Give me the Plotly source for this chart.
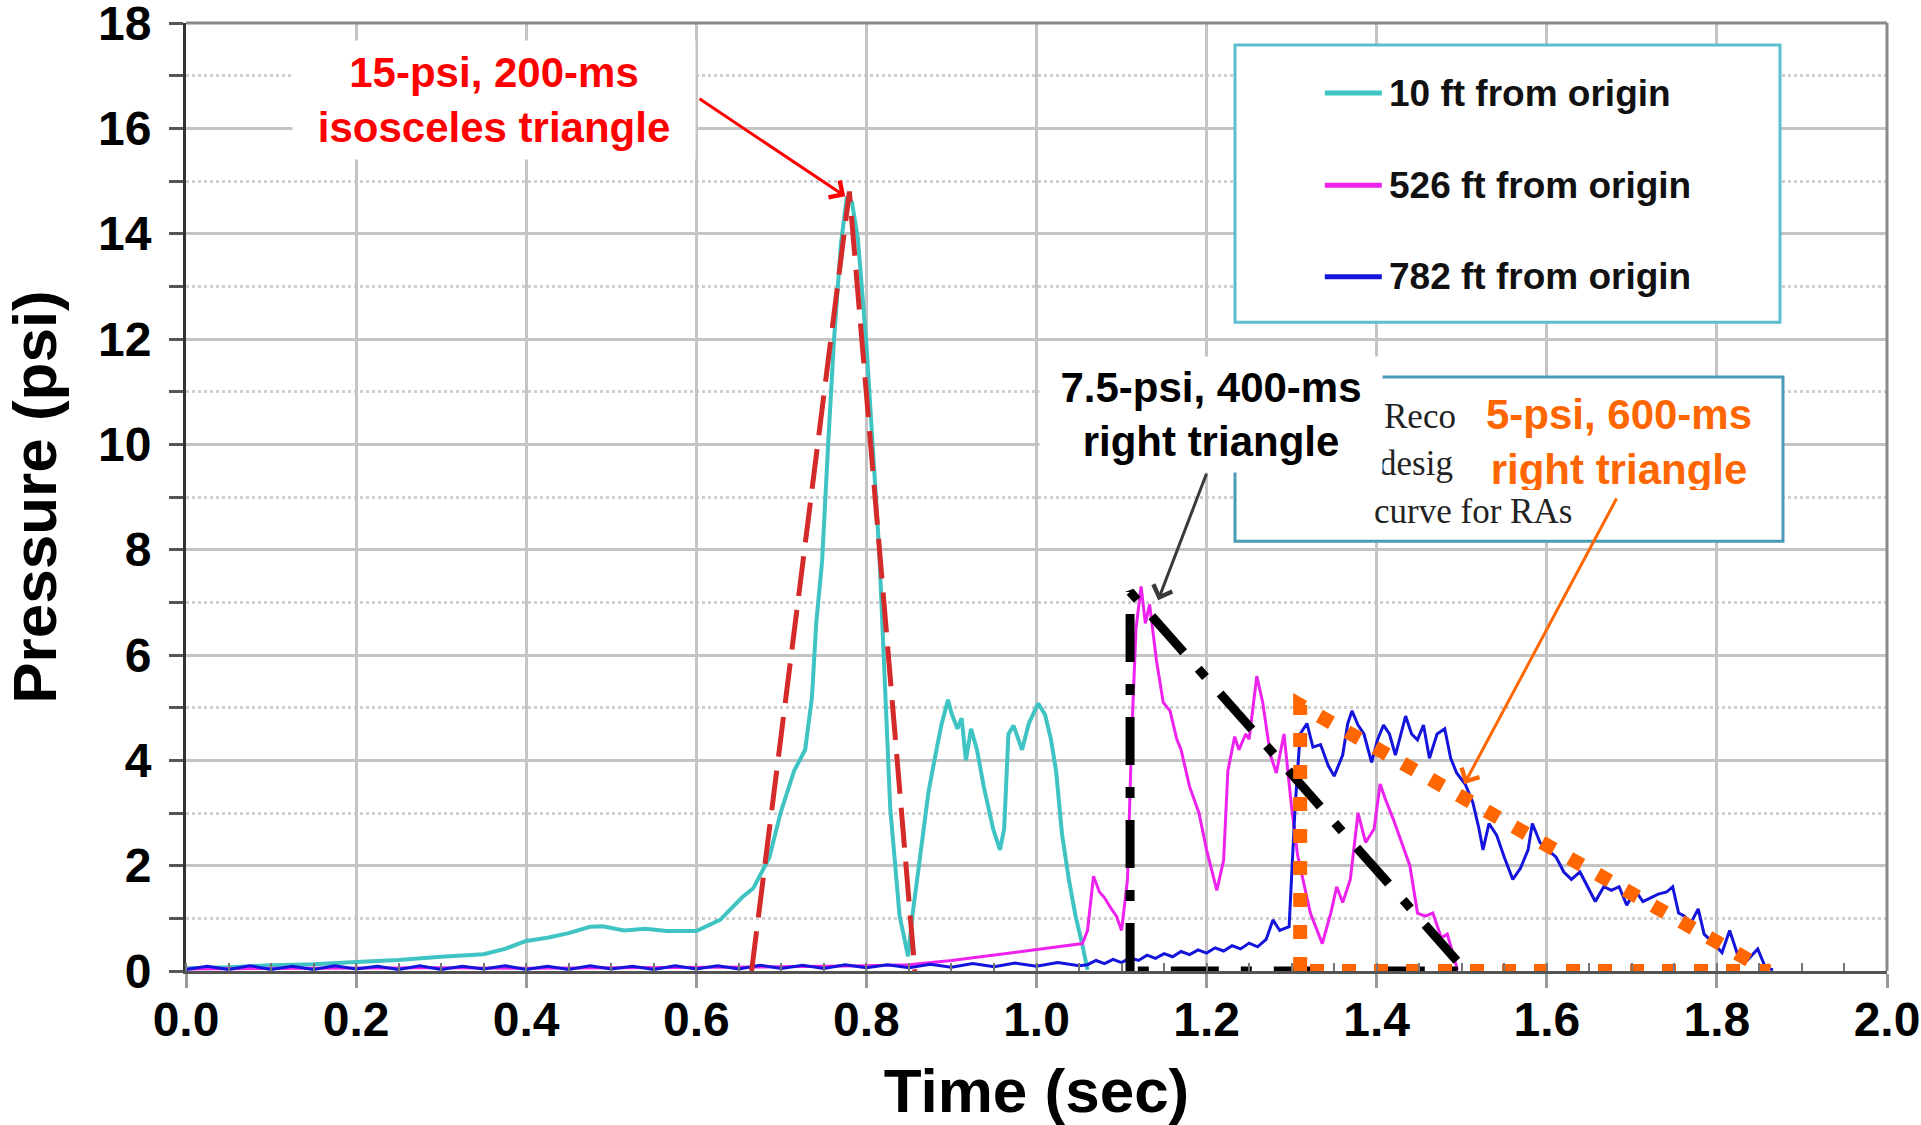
import plotly.graph_objects as go

# ---------------- data ----------------
cyan_t = [0.00, 0.05, 0.10, 0.15, 0.20, 0.25, 0.30, 0.35, 0.375, 0.40, 0.425, 0.45, 0.475, 0.49,
          0.515, 0.54, 0.565, 0.60, 0.628, 0.654, 0.667, 0.686, 0.699, 0.715, 0.728, 0.736, 0.741,
          0.748, 0.755, 0.762, 0.770, 0.777, 0.783, 0.790, 0.800, 0.809, 0.815, 0.828, 0.839, 0.849,
          0.854, 0.865, 0.873, 0.880, 0.888, 0.896, 0.900, 0.907, 0.912, 0.917, 0.923, 0.930, 0.938,
          0.949, 0.957, 0.962, 0.967, 0.973, 0.978, 0.983, 0.991, 1.002, 1.010, 1.017, 1.023, 1.030,
          1.038, 1.046, 1.054, 1.060]
cyan_p = [0.05, 0.07, 0.11, 0.13, 0.17, 0.21, 0.27, 0.32, 0.42, 0.57, 0.63, 0.72, 0.84, 0.85,
          0.77, 0.80, 0.76, 0.76, 0.97, 1.40, 1.57, 2.16, 3.0, 3.8, 4.2, 5.2, 6.6,
          7.8, 10.0, 12.0, 13.8, 14.7, 14.6, 13.9, 11.9, 9.4, 8.0, 3.1, 1.05, 0.28,
          1.04, 2.4, 3.4, 4.0, 4.66, 5.15, 4.9, 4.6, 4.8, 4.0, 4.6, 4.2, 3.5,
          2.7, 2.3, 2.7, 4.5, 4.66, 4.4, 4.2, 4.7, 5.08, 4.87, 4.4, 3.8, 2.6,
          1.74, 1.04, 0.49, 0.02]

magenta_t = [0.00, 0.10, 0.20, 0.30, 0.40, 0.50, 0.60, 0.70, 0.80, 0.85, 0.90, 0.95, 1.00, 1.054,
             1.060, 1.067, 1.074, 1.080, 1.088, 1.094, 1.100, 1.107, 1.112, 1.117, 1.123, 1.128,
             1.133, 1.141, 1.149, 1.157, 1.165, 1.170, 1.180, 1.191, 1.200, 1.212, 1.220, 1.225,
             1.233, 1.238, 1.246, 1.250, 1.259, 1.266, 1.275, 1.282, 1.291, 1.300, 1.307, 1.317,
             1.322, 1.336, 1.346, 1.353, 1.360, 1.369, 1.378, 1.387, 1.397, 1.404, 1.410, 1.420,
             1.429, 1.439, 1.448, 1.457, 1.466, 1.476, 1.483, 1.492, 1.495]
magenta_p = [0.04, 0.05, 0.05, 0.06, 0.05, 0.06, 0.06, 0.08, 0.10, 0.12, 0.20, 0.30, 0.40, 0.52,
             0.77, 1.80, 1.50, 1.39, 1.18, 1.04, 0.77, 1.74, 4.5, 6.5, 7.3, 6.6,
             6.96, 5.9, 5.1, 4.94, 4.4, 4.2, 3.5, 3.0, 2.3, 1.53, 2.1, 3.8,
             4.45, 4.2, 4.5, 4.4, 5.6, 5.1, 4.1, 3.76, 4.5, 3.1, 2.2, 1.5,
             1.1, 0.52, 1.1, 1.6, 1.3, 1.74, 3.0, 2.44, 2.7, 3.55, 3.27, 2.86,
             2.44, 2.0, 1.1, 1.04, 1.1, 0.63, 0.7, 0.2, 0.02]

blue_t = [0.000, 0.025, 0.050, 0.075, 0.100, 0.125, 0.150, 0.175, 0.200, 0.225, 0.250, 0.275,
          0.300, 0.325, 0.350, 0.375, 0.400, 0.425, 0.450, 0.475, 0.500, 0.525, 0.550, 0.575,
          0.600, 0.625, 0.650, 0.675, 0.700, 0.725, 0.750, 0.775, 0.800, 0.825, 0.850, 0.875,
          0.900, 0.925, 0.950, 0.975, 1.000, 1.025, 1.050,
          1.06, 1.07, 1.08, 1.09, 1.10, 1.11, 1.12, 1.13, 1.14, 1.15, 1.16, 1.17, 1.18, 1.19,
          1.20, 1.21, 1.22, 1.23, 1.24, 1.25, 1.26, 1.27, 1.278, 1.286, 1.297,
          1.304, 1.310, 1.318, 1.325, 1.334, 1.343, 1.350, 1.360, 1.366, 1.371, 1.378, 1.385,
          1.394, 1.401, 1.408, 1.415, 1.422, 1.427, 1.434, 1.441, 1.448, 1.455, 1.462, 1.471,
          1.480, 1.487, 1.494, 1.504, 1.513, 1.520, 1.525, 1.532, 1.541, 1.550, 1.560, 1.569,
          1.578, 1.583, 1.592, 1.601, 1.611, 1.620, 1.629, 1.639, 1.648, 1.657, 1.667, 1.676,
          1.685, 1.694, 1.704, 1.713, 1.722, 1.731, 1.741, 1.748, 1.755, 1.762, 1.769, 1.778,
          1.785, 1.794, 1.806, 1.815, 1.825, 1.836, 1.848, 1.857, 1.866]
blue_p = [0.03, 0.09, 0.03, 0.10, 0.03, 0.09, 0.03, 0.10, 0.04, 0.09, 0.03, 0.10,
          0.03, 0.09, 0.04, 0.10, 0.03, 0.09, 0.03, 0.10, 0.04, 0.09, 0.03, 0.10,
          0.04, 0.10, 0.04, 0.11, 0.05, 0.11, 0.05, 0.12, 0.06, 0.12, 0.06, 0.13,
          0.07, 0.14, 0.08, 0.15, 0.09, 0.16, 0.10,
          0.12, 0.20, 0.14, 0.22, 0.16, 0.25, 0.20, 0.30, 0.24, 0.33, 0.27, 0.37, 0.31, 0.40,
          0.34, 0.44, 0.38, 0.48, 0.42, 0.53, 0.46, 0.60, 0.97, 0.77, 0.84,
          3.1, 4.5, 4.7, 4.25, 4.3, 3.9, 3.7, 4.1, 4.7, 4.94, 4.67, 4.5,
          3.96, 4.39, 4.67, 4.5, 4.1, 4.4, 4.84, 4.5, 4.39, 4.67, 4.04, 4.5,
          4.6, 4.04, 3.76, 3.55, 3.2, 2.72, 2.3, 2.8, 2.58, 2.16, 1.74, 1.95,
          2.3, 2.8, 2.44, 2.3, 2.16, 1.88, 1.74, 1.88, 1.6, 1.32, 1.6, 1.53,
          1.6, 1.25, 1.53, 1.32, 1.39, 1.46, 1.5, 1.6, 1.1, 1.04, 0.9, 1.18,
          0.7, 0.56, 0.35, 0.77, 0.28, 0.21, 0.42, 0.07, 0.02]

# design-curve triangles
iso_t = [0.665, 0.78, 0.857]
iso_p = [0.0, 14.8, 0.0]
rt400_t = [1.11, 1.11, 1.505, 1.11]
rt400_p = [0.0, 7.2, 0.0, 0.0]
rt600_t = [1.31, 1.31, 1.86, 1.31]
rt600_p = [0.0, 5.05, 0.0, 0.0]

series_names = ["10 ft from origin", "526 ft from origin", "782 ft from origin"]
series_colors = ["#3fc3c3", "#ee22ee", "#1414dc"]

x_ticks = [0.0, 0.2, 0.4, 0.6, 0.8, 1.0, 1.2, 1.4, 1.6, 1.8, 2.0]
y_ticks = [0, 2, 4, 6, 8, 10, 12, 14, 16, 18]

# ---------------- figure ----------------
fig = go.Figure()
fig.add_trace(go.Scatter(x=cyan_t, y=cyan_p, mode="lines", name=series_names[0],
                         line=dict(color=series_colors[0], width=4)))
fig.add_trace(go.Scatter(x=magenta_t, y=magenta_p, mode="lines", name=series_names[1],
                         line=dict(color=series_colors[1], width=3)))
fig.add_trace(go.Scatter(x=blue_t, y=blue_p, mode="lines", name=series_names[2],
                         line=dict(color=series_colors[2], width=3)))
fig.add_trace(go.Scatter(x=iso_t, y=iso_p, mode="lines", name="15-psi, 200-ms",
                         line=dict(color="#d42a2a", width=5, dash="40px,14px")))
fig.add_trace(go.Scatter(x=rt400_t, y=rt400_p, mode="lines", name="7.5-psi, 400-ms",
                         line=dict(color="#000000", width=9, dash="48px,22px,11px,22px")))
fig.add_trace(go.Scatter(x=rt600_t, y=rt600_p, mode="lines", name="5-psi, 600-ms",
                         line=dict(color="#ff6600", width=14, dash="14px,18px")))

FONT = "Liberation Sans, Arial, sans-serif"
SERIF = "Liberation Serif, Times New Roman, serif"

shapes = []
# top and right border
shapes.append(dict(type="line", xref="paper", yref="paper", x0=0, x1=1, y0=1, y1=1,
                   line=dict(color="#8a8a8a", width=3), layer="above"))
shapes.append(dict(type="line", xref="paper", yref="paper", x0=1, x1=1, y0=0, y1=1,
                   line=dict(color="#8a8a8a", width=3), layer="above"))
# legend box
shapes.append(dict(type="rect", xref="x", yref="y", x0=1.2334, x1=1.8742, y0=12.32, y1=17.58,
                   line=dict(color="#5bbfcf", width=3), fillcolor="white", layer="above"))
# recommended-curve box
shapes.append(dict(type="rect", xref="x", yref="y", x0=1.2334, x1=1.8777, y0=8.16, y1=11.28,
                   line=dict(color="#4a9bb5", width=3), fillcolor="white", layer="above"))

annotations = []
# legend entries
leg_y = [16.67, 14.92, 13.18]
for name, col, yy in zip(series_names, series_colors, leg_y):
    shapes.append(dict(type="line", xref="x", yref="y", x0=1.339, x1=1.406, y0=yy, y1=yy,
                       line=dict(color=col, width=5), layer="above"))
    annotations.append(dict(x=1.412, y=yy, xref="x", yref="y", text=name, showarrow=False,
                            xanchor="left", yanchor="middle",
                            font=dict(family=FONT, size=37, color="#111111", weight="bold")))

# visible fragments of the serif text in the second box (rest is covered by callouts)
for txt, xx, yy in [("Reco", 1.406, 10.52), ("desig", 1.400, 9.63), ("curve for RAs", 1.394, 8.72)]:
    annotations.append(dict(x=xx, y=yy, xref="x", yref="y", text=txt, showarrow=False,
                            xanchor="left", yanchor="middle",
                            font=dict(family=SERIF, size=35, color="#222222")))

# callout labels
annotations.append(dict(x=0.362, y=16.54, xref="x", yref="y",
                        text="15-psi, 200-ms<br>isosceles triangle", showarrow=False,
                        bgcolor="white", width=400, height=116, align="center",
                        font=dict(family=FONT, size=42, color="#ff0000", weight="bold")))
annotations.append(dict(x=1.205, y=10.56, xref="x", yref="y",
                        text="7.5-psi, 400-ms<br>right triangle", showarrow=False,
                        bgcolor="white", width=340, height=113, align="center",
                        font=dict(family=FONT, size=42, color="#000000", weight="bold")))
annotations.append(dict(x=1.685, y=10.05, xref="x", yref="y",
                        text="5-psi, 600-ms<br>right triangle", showarrow=False,
                        bgcolor="white", width=290, height=96, align="center",
                        font=dict(family=FONT, size=42, color="#ff6600", weight="bold")))
# arrows
annotations.append(dict(x=0.775, y=14.71, ax=0.602, ay=16.58, xref="x", yref="y",
                        axref="x", ayref="y", text="", showarrow=True,
                        arrowhead=4, arrowsize=1.3, arrowwidth=3, arrowcolor="#ff0000"))
annotations.append(dict(x=1.143, y=7.04, ax=1.2005, ay=9.47, xref="x", yref="y",
                        axref="x", ayref="y", text="", showarrow=True,
                        arrowhead=4, arrowsize=1.3, arrowwidth=3, arrowcolor="#3a3a3a"))
annotations.append(dict(x=1.503, y=3.55, ax=1.683, ay=9.0, xref="x", yref="y",
                        axref="x", ayref="y", text="", showarrow=True,
                        arrowhead=4, arrowsize=1.3, arrowwidth=3, arrowcolor="#ff6600"))

fig.update_layout(
    width=1921, height=1125,
    margin=dict(l=186, r=34, t=23, b=154, autoexpand=False),
    paper_bgcolor="white", plot_bgcolor="white",
    showlegend=False,
    shapes=shapes, annotations=annotations,
    font=dict(family=FONT, color="#000000"),
)
fig.update_xaxes(
    range=[0, 2.0], tickvals=x_ticks, ticktext=[f"{v:.1f}" for v in x_ticks],
    automargin=False,
    showgrid=True, gridcolor="#c4c4c4", gridwidth=3,
    showline=True, linecolor="#555555", linewidth=3,
    ticks="outside", ticklen=14, tickwidth=3, tickcolor="#9a9a9a",
    tickfont=dict(family=FONT, size=48, color="#000000", weight="bold"),
    ticklabelstandoff=-10, ticklabeloverflow="allow",
    minor=dict(dtick=0.05, ticks="inside", ticklen=8, tickwidth=2, tickcolor="#777777", showgrid=False),
    title=dict(text="Time (sec)", standoff=58,
               font=dict(family=FONT, size=62, color="#000000", weight="bold")),
    zeroline=False,
)
fig.update_yaxes(
    range=[0, 18], tickvals=y_ticks,
    automargin=False,
    showgrid=True, gridcolor="#c4c4c4", gridwidth=3,
    showline=True, linecolor="#333333", linewidth=3,
    ticks="outside", ticklen=14, tickwidth=3, tickcolor="#555555",
    tickfont=dict(family=FONT, size=48, color="#000000", weight="bold"),
    ticklabelstandoff=8, ticklabeloverflow="allow",
    minor=dict(dtick=1, ticks="outside", ticklen=14, tickwidth=3, tickcolor="#555555",
               showgrid=True, gridcolor="#cfcfcf", gridwidth=3, griddash="dot"),
    title=dict(text="Pressure (psi)", standoff=28,
               font=dict(family=FONT, size=62, color="#000000", weight="bold")),
    zeroline=False,
)

fig.write_html("out.html")
